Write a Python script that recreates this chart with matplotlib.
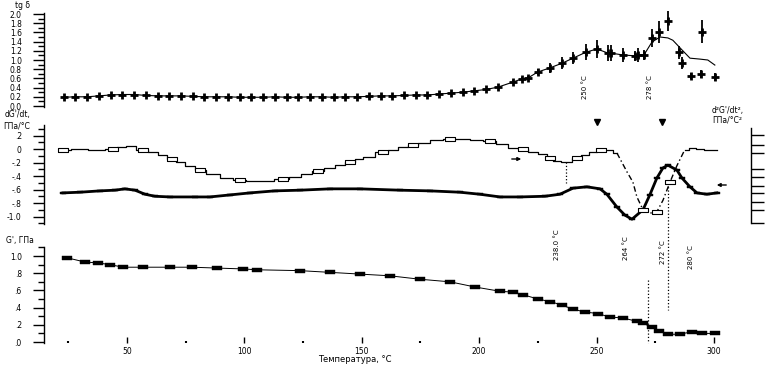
import matplotlib
matplotlib.use('Agg')
import matplotlib.pyplot as plt
from matplotlib.ticker import MultipleLocator, FixedLocator
from matplotlib.transforms import blended_transform_factory as btf

plt.rcParams['font.family'] = ['DejaVu Sans']
FS = 5.5

# ---------------- data ----------------
# top panel: tg delta
tg_T = [23, 28, 33, 38, 43, 48, 53, 58, 63, 68, 73, 78, 83, 88, 93, 98, 103, 108, 113, 118,
        123, 128, 133, 138, 143, 148, 153, 158, 163, 168, 173, 178, 183, 188, 193, 198, 203, 208,
        214.4, 218.2, 220.8, 225.0, 230.2, 235.3, 240.0, 245.5, 250.2, 254.9, 256.1, 261.2,
        266.4, 267.6, 270.2, 273.6, 276.6, 280.4, 285.1, 286.4, 290.2, 294.5, 294.9, 300.4]
tg = [0.19, 0.20, 0.20, 0.22, 0.24, 0.25, 0.25, 0.23, 0.22, 0.22, 0.22, 0.21, 0.20, 0.20, 0.20,
      0.19, 0.19, 0.19, 0.20, 0.19, 0.19, 0.20, 0.20, 0.19, 0.20, 0.20, 0.21, 0.22, 0.22, 0.23,
      0.24, 0.24, 0.26, 0.28, 0.30, 0.33, 0.36, 0.41,
      0.52, 0.59, 0.61, 0.74, 0.83, 0.93, 1.04, 1.17, 1.24, 1.15, 1.15, 1.11,
      1.09, 1.11, 1.11, 1.48, 1.61, 1.85, 1.17, 0.93, 0.65, 0.70, 1.61, 0.63]
tg_err = [0.0] * 36 + [0.03, 0.03,
          0.05, 0.05, 0.05, 0.07, 0.11, 0.13, 0.13, 0.17, 0.20, 0.17, 0.17, 0.16,
          0.11, 0.16, 0.11, 0.20, 0.24, 0.21, 0.14, 0.13, 0.07, 0.09, 0.25, 0.08]
fit_T = [270.2, 273.6, 277.0, 280.4, 282.5, 286.4, 289.8, 294.0, 297.4, 300.4]
fit = [1.11, 1.39, 1.50, 1.48, 1.43, 1.22, 1.04, 1.02, 1.00, 0.89]

# middle panel: dG'/dt (left axis)
g1_T = [22.7, 30, 38.5, 44.9, 49.1, 53.4, 57.7, 61.9, 68.3, 78.9, 85.3, 93.9, 102.4, 113.0,
        123.7, 136.5, 149.2, 166.3, 179.0, 191.8, 200.3, 208.9, 217.4, 228.0, 234.4, 240.0,
        245.9, 251.5, 254.4, 258.7, 262.1, 265.1, 269.8, 272.7, 275.7, 278.3, 280.4, 284.2,
        286.4, 289.8, 292.8, 297.0, 301.3]
g1 = [-0.65, -0.64, -0.62, -0.61, -0.59, -0.61, -0.67, -0.70, -0.71, -0.71, -0.71, -0.68,
      -0.65, -0.62, -0.61, -0.59, -0.59, -0.61, -0.62, -0.64, -0.67, -0.71, -0.71, -0.70,
      -0.67, -0.58, -0.56, -0.59, -0.67, -0.86, -0.98, -1.04, -0.90, -0.68, -0.43, -0.28,
      -0.24, -0.31, -0.43, -0.56, -0.65, -0.67, -0.65]

# middle panel: d2G'/dt2 (right axis)
d2_T = [22.7, 30, 37.2, 44, 47.9, 51.3, 56.8, 61.1, 65.3, 69.2, 72.6, 76.9, 81.1, 86.6, 92.6,
        98.1, 103.7, 108.8, 116.4, 121.5, 126.7, 131.3, 136.5, 140.7, 145.0, 149.2, 152.2,
        159.0, 163.3, 167.5, 171.8, 176.1, 182.0, 187.6, 193.1, 199.1, 204.6, 210.1, 214.4,
        218.7, 222.9, 227.2, 230.2, 233.1, 237.0, 241.7, 245.1, 248.5, 251.9, 255.7, 258.7,
        263.0, 265.5, 267.2, 269.8, 272.8, 275.7, 278.3, 281.3, 284.2, 287.6,
        291.1, 294.0, 297.4, 301.3]
d2 = [-0.01, 0, -0.01, 0, 0.03, 0.04, -0.01, -0.04, -0.09, -0.15, -0.19, -0.25, -0.31, -0.37,
      -0.43, -0.46, -0.47, -0.47, -0.44, -0.41, -0.37, -0.33, -0.28, -0.24, -0.19, -0.15, -0.12,
      -0.04, -0.01, 0.03, 0.06, 0.09, 0.13, 0.15, 0.15, 0.13, 0.12, 0.07, 0.01, 0.0,
      -0.04, -0.07, -0.13, -0.18, -0.19, -0.13, -0.09, -0.04, -0.01, -0.01, -0.06,
      -0.34, -0.49, -0.71, -0.90, -0.95, -0.93, -0.76, -0.49, -0.25, -0.01,
      0.01, 0.0, -0.01, -0.01]

# bottom panel: G'
gp_T = [24.4, 32.1, 37.6, 42.8, 48.3, 56.8, 68.3, 77.7, 88.3, 99.4, 105.4, 123.7, 136.5, 149.2,
        162.0, 174.8, 187.6, 198.2, 208.9, 214.4, 218.7, 225.0, 230.2, 235.3, 240.0, 245.1,
        250.6, 255.7, 261.2, 267.2, 269.8, 273.6, 276.6, 280.4, 285.5, 290.6, 294.9, 300.4]
gp = [0.98, 0.93, 0.92, 0.90, 0.87, 0.87, 0.87, 0.87, 0.86, 0.85, 0.84, 0.83, 0.81, 0.79,
      0.77, 0.73, 0.70, 0.64, 0.59, 0.58, 0.55, 0.50, 0.47, 0.43, 0.38, 0.35, 0.33, 0.29,
      0.28, 0.24, 0.22, 0.17, 0.13, 0.09, 0.09, 0.12, 0.10, 0.10]

x_ticks = [50, 100, 150, 200, 250, 300]
x_label = 'Температура, °С'

# ---------------- figure ----------------
W_PX, H_PX = 769, 366
fig = plt.figure(figsize=(W_PX / 100, H_PX / 100), dpi=100)
L, W = 44 / W_PX, 707 / W_PX


def frac(top, bot):
    return [L, 1 - bot / H_PX, W, (bot - top) / H_PX]


ax1 = fig.add_axes(frac(13, 107))
ax2 = fig.add_axes(frac(125, 224))
ax3 = fig.add_axes(frac(247, 343))

for ax in (ax1, ax2, ax3):
    ax.set_xlim(14.65, 315.8)
    for s in ('top', 'right', 'bottom'):
        ax.spines[s].set_visible(False)
    ax.spines['left'].set_linewidth(1.0)
    ax.tick_params(axis='y', which='major', direction='out', length=8, width=1, pad=8,
                   labelsize=FS)
    ax.tick_params(axis='y', which='minor', direction='out', length=4, width=1)
    ax.patch.set_alpha(0)

ax1.tick_params(axis='x', which='both', bottom=False, labelbottom=False)
ax2.tick_params(axis='x', which='both', bottom=False, labelbottom=False)

# y scales
ax1.set_ylim(-0.0217, 2.022)
ax1.yaxis.set_major_locator(FixedLocator([0, 0.2, 0.4, 0.6, 0.8, 1.0, 1.2, 1.4, 1.6, 1.8, 2.0]))
ax1.set_yticklabels(['0.0', '0.2', '0.4', '0.6', '0.8', '1.0', '1.2', '1.4', '1.6', '1.8', '2.0'])
ax1.yaxis.set_minor_locator(MultipleLocator(0.1))

ax2.set_ylim(-1.111, 0.356)
ax2.yaxis.set_major_locator(FixedLocator([0.2, 0, -0.2, -0.4, -0.6, -0.8, -1.0]))
ax2.set_yticklabels(['.2', '0', '-.2', '-.4', '-.6', '-.8', '-1.0'])
ax2.yaxis.set_minor_locator(MultipleLocator(0.1))

ax3.set_ylim(-0.0116, 1.105)
ax3.yaxis.set_major_locator(FixedLocator([0, 0.2, 0.4, 0.6, 0.8, 1.0]))
ax3.set_yticklabels(['.0', '.2', '.4', '.6', '.8', '1.0'])
ax3.yaxis.set_minor_locator(MultipleLocator(0.1))

ax3.xaxis.set_major_locator(FixedLocator(x_ticks))
ax3.xaxis.set_minor_locator(FixedLocator([25, 75, 125, 175, 225, 275]))
ax3.set_xticklabels([str(v) for v in x_ticks])
ax3.tick_params(axis='x', which='major', direction='in', length=4, width=1, pad=3, labelsize=FS)
ax3.tick_params(axis='x', which='minor', direction='in', length=1.5, width=1.5)

# custom markers
rect_w = [(-1, -0.4), (1, -0.4), (1, 0.4), (-1, 0.4), (-1, -0.4)]
rect_f = [(-1, -0.4), (1, -0.4), (1, 0.4), (-1, 0.4), (-1, -0.4)]

# ---- top panel ----
n_line = tg_T.index(270.2) + 1
ax1.plot(tg_T[:n_line], tg[:n_line], '-', color='k', lw=0.8, clip_on=False)
ax1.plot(fit_T, fit, '-', color='k', lw=0.8, clip_on=False)
ax1.errorbar(tg_T, tg, yerr=tg_err, fmt='none', ecolor='k', elinewidth=1.3, capsize=0,
             clip_on=False)
ax1.plot(tg_T, tg, linestyle='none', marker='+', ms=6, mew=2.0, color='k', clip_on=False)

# ---- middle panel ----
ax2.plot(g1_T, g1, '-', color='k', lw=2.0, marker=rect_f, ms=5, mfc='k', mec='k', mew=0.3,
         clip_on=False)

ax2r = ax2.twinx()
ax2r.set_ylim(ax2.get_ylim())
for s in ('top', 'left', 'bottom'):
    ax2r.spines[s].set_visible(False)
ax2r.spines['right'].set_bounds(-1.10, 0.31)
ax2r.spines['right'].set_linewidth(1.0)
ax2r.yaxis.set_major_locator(FixedLocator([0.21, 0.06, -0.06, -0.30, -0.41, -0.55, -0.65,
                                           -0.79, -0.90, -1.10]))
ax2r.tick_params(axis='y', direction='out', length=9, width=1, labelright=False)

i_a = d2_T.index(258.7)
i_b = d2_T.index(287.6)
ax2r.plot(d2_T[:i_a + 1], d2[:i_a + 1], color='k', lw=0.9, drawstyle='steps-mid',
          marker=rect_w, ms=6.5, mfc='white', mec='k', mew=0.8, markevery=3, clip_on=False)
ax2r.plot(d2_T[i_a:i_b + 1], d2[i_a:i_b + 1], color='k', lw=1.0, linestyle=(0, (4, 2, 1, 2)),
          clip_on=False)
ax2r.plot(d2_T[i_a + 4:i_b:2], d2[i_a + 4:i_b:2], linestyle='none', marker=rect_w, ms=6.5,
          mfc='white', mec='k', mew=0.8, clip_on=False)
ax2r.plot(d2_T[i_b:], d2[i_b:], color='k', lw=0.9, drawstyle='steps-mid', clip_on=False)

# peak triangles above middle panel
ax2.plot([250.2, 277.9], [1.035, 1.035], linestyle='none', marker='v', ms=4.5, color='k',
         transform=btf(ax2.transData, ax2.transAxes), clip_on=False)

# dotted guides
ax2.plot([237.0, 237.0], [-0.19, -0.50], ':', color='k', lw=0.9)
ax2.plot([280.4, 280.4], [1 - 180 / H_PX, 1 - 310 / H_PX], ':', color='k', lw=0.9,
         transform=btf(ax2.transData, fig.transFigure), clip_on=False)
ax3.plot([272.0, 272.0], [0.72, -0.01], ':', color='k', lw=0.9, clip_on=False)

# arrows
ap = dict(arrowstyle='-|>', lw=1.0, color='k', mutation_scale=5)
fig.add_artist(matplotlib.patches.FancyArrowPatch((509 / W_PX, 1 - 159 / H_PX),
                                                  (524 / W_PX, 1 - 159 / H_PX),
                                                  transform=fig.transFigure, **ap))
fig.add_artist(matplotlib.patches.FancyArrowPatch((729 / W_PX, 1 - 185 / H_PX),
                                                  (714 / W_PX, 1 - 185 / H_PX),
                                                  transform=fig.transFigure, **ap))

# ---- bottom panel ----
ax3.plot(gp_T, gp, '-', color='k', lw=0.7, marker=rect_f, ms=7, mfc='k', mec='k', mew=0.3,
         clip_on=False)


# ---------------- texts ----------------
def ftxt(x, y, s, **kw):
    kw.setdefault('fontsize', FS)
    fig.text(x / W_PX, 1 - y / H_PX, s, **kw)


ftxt(355, 360, x_label, ha='center', va='center', fontsize=6)
ftxt(15, 5, 'tg δ', ha='left', va='center')
ftxt(5, 115, "dG'/dt,", ha='left', va='center')
ftxt(3, 126, 'ГПа/°С', ha='left', va='center')
ftxt(6, 240, "G', ГПа", ha='left', va='center')
ftxt(712, 110, "d²G'/dt²,", ha='left', va='center')
ftxt(712, 120, 'ГПа/°С²', ha='left', va='center')

for (x, y, s) in [(585, 87, '250 °C'), (650, 87, '278 °C'), (557, 245, '238.0 °C'),
                  (626, 248, '264 °C'), (663, 252, '272 °C'), (691, 257, '280 °C')]:
    ftxt(x, y, s, ha='center', va='center', rotation=90, fontsize=5)

fig.savefig('out.png', dpi=100)
